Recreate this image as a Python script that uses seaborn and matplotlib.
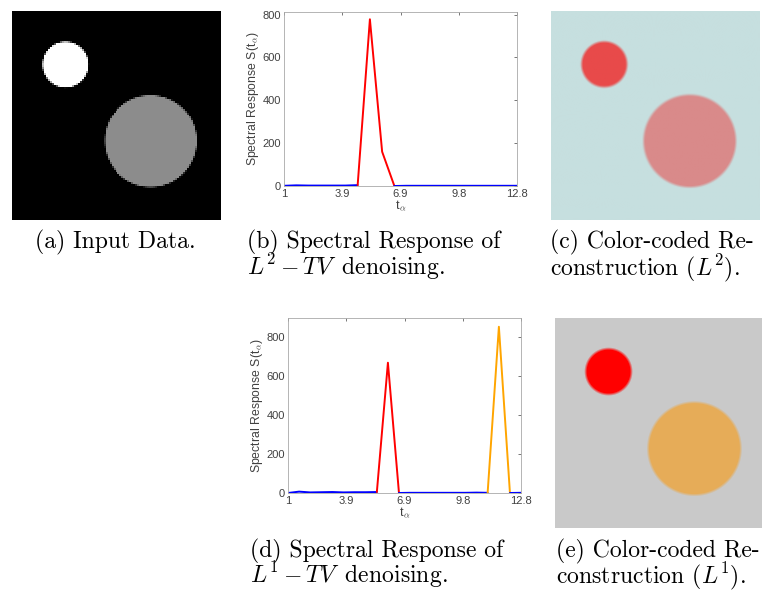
import numpy as np
import pandas as pd
import matplotlib
matplotlib.use('Agg')
import matplotlib.pyplot as plt
from matplotlib.colors import to_rgb
import seaborn as sns

# disc geometry in the test image (fractions of the image side, y downwards)
disc_centres = [(0.255, 0.255), (0.664, 0.622)]
disc_radii = [0.109, 0.221]

# colours of background / small disc / big disc per image
input_colours = ['#000000', '#ffffff', '#8c8c8c']
l2_colours = ['#c6dfdf', '#e84a4a', '#d98a8a']
l1_colours = ['#c9c9c9', '#ff0000', '#e6ac58']

# spectral response, L2-TV
t_l2 = [1.00, 1.62, 2.24, 2.86, 3.48, 4.11, 4.73, 5.35, 5.97, 6.59,
        7.21, 7.83, 8.45, 9.07, 9.69, 10.32, 10.94, 11.56, 12.18, 12.80]
s_l2 = [1, 3, 2, 2, 2, 2, 4, 778, 160, 0,
        1, 1, 1, 1, 1, 1, 1, 1, 1, 1]
seg_l2 = [(0, 6, 'blue'), (6, 9, 'red'), (9, 19, 'blue')]

# spectral response, L1-TV
t_l1 = [1.00, 1.56, 2.12, 2.69, 3.25, 3.81, 4.37, 4.93, 5.50, 6.06, 6.62,
        7.18, 7.74, 8.30, 8.87, 9.43, 9.99, 10.55, 11.11, 11.68, 12.24, 12.80]
s_l1 = [0, 7, 3, 4, 5, 3, 4, 4, 5, 670, 0,
        1, 1, 1, 1, 1, 1, 2, 1, 855, 0, 1]
seg_l1 = [(0, 8, 'blue'), (8, 10, 'red'), (10, 18, 'blue'), (18, 20, 'orange'), (20, 21, 'blue')]

x_ticks = [1, 3.95, 6.9, 9.85, 12.8]
x_ticklabels = ['1', '3.9', '6.9', '9.8', '12.8']
y_ticks = [0, 200, 400, 600, 800]

line_colours = {'blue': '#0000ff', 'red': '#ff0000', 'orange': '#ffa500'}

sns.set_theme(style='white')
plt.rcParams['font.family'] = ['Liberation Sans', 'DejaVu Sans']
plt.rcParams['mathtext.fontset'] = 'cm'

W, H = 762, 592
fig = plt.figure(figsize=(W / 100, H / 100), dpi=100)


def box(x, y, w, h):
    return fig.add_axes([x / W, 1 - (y + h) / H, w / W, h / H])


def disc_image(ax, n, colours, soft, interp):
    yy, xx = np.mgrid[0:n, 0:n]
    xx = (xx + 0.5) / n
    yy = (yy + 0.5) / n
    img = np.ones((n, n, 3)) * np.array(to_rgb(colours[0]))
    for (cx, cy), r, col in zip(disc_centres, disc_radii, colours[1:]):
        d = np.hypot(xx - cx, yy - cy)
        a = np.clip((r - d) / soft + 0.5, 0, 1)[..., None]
        img = img * (1 - a) + np.array(to_rgb(col)) * a
    ax.imshow(img, extent=(0, 1, 1, 0), interpolation=interp)
    ax.axis('off')


def spectrum(ax, t, s, segs, ytop):
    df = pd.DataFrame({'t': t, 'S': s})
    for a, b, c in segs:
        sns.lineplot(data=df.iloc[a:b + 1], x='t', y='S', color=line_colours[c],
                     lw=1.4, estimator=None, ax=ax)
    ax.set_xlim(1, 12.8)
    ax.set_ylim(0, ytop)
    ax.set_xticks(x_ticks)
    ax.set_xticklabels(x_ticklabels)
    ax.set_yticks(y_ticks)
    ax.tick_params(direction='in', length=2.5, width=0.5, top=True, right=True,
                   labelsize=8, colors='#404040', pad=2)
    for sp in ax.spines.values():
        sp.set_color('#a8a8a8')
        sp.set_linewidth(0.6)
    ax.set_xlabel('t$_\\alpha$', fontsize=9, color='#404040', labelpad=0)
    ax.set_ylabel('Spectral Response S(t$_\\alpha$)', fontsize=8.8, color='#404040', labelpad=1)


disc_image(box(11, 11, 210, 209), 105, input_colours, 0.006, 'nearest')
spectrum(box(284, 12, 233, 174), t_l2, s_l2, seg_l2, 812)
disc_image(box(550, 11, 210, 209), 210, l2_colours, 0.014, 'bilinear')
spectrum(box(288, 318, 233, 175), t_l1, s_l1, seg_l1, 900)
disc_image(box(555, 318, 210, 210), 210, l1_colours, 0.014, 'bilinear')

captions = [
    (35, 248, '(a) Input Data.'),
    (247, 248, '(b) Spectral Response of'),
    (247, 275, '$L^2 - TV\\,$ denoising.'),
    (550, 248, '(c) Color-coded Re-'),
    (550, 275, 'construction ($L^2$).'),
    (250, 557, '(d) Spectral Response of'),
    (250, 583, '$L^1 - TV\\,$ denoising.'),
    (556, 557, '(e) Color-coded Re-'),
    (556, 583, 'construction ($L^1$).'),
]
for x, y, txt in captions:
    fig.text(x / W, 1 - y / H, txt, fontfamily='cmr10', fontsize=17.1,
             va='baseline', ha='left', color='black')

fig.savefig('out.png', dpi=100)
